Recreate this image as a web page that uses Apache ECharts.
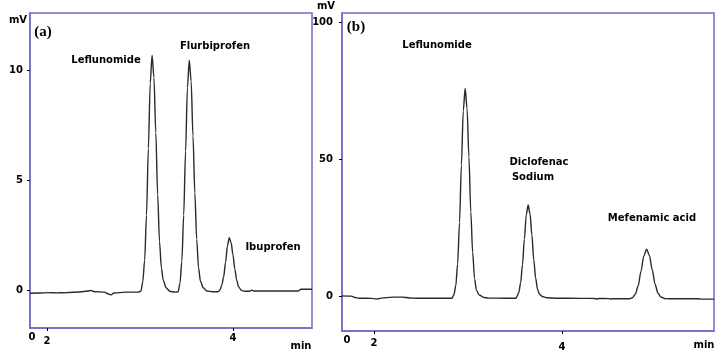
<!DOCTYPE html>
<html>
<head>
<meta charset="utf-8">
<script src="https://cdn.jsdelivr.net/npm/echarts@6/dist/echarts.min.js"></script>
<style>
  html, body { margin: 0; padding: 0; background: #fff; }
  #main { width: 722px; height: 354px; }
</style>
</head>
<body>
<div id="main"></div>
<script>
// panel (a) chromatogram, time in min / signal in mV
var timeA = [1.817, 1.90, 2.03, 2.10, 2.21, 2.35, 2.44, 2.47, 2.50, 2.62, 2.66, 2.69, 2.72, 2.85, 2.98,
  3.01, 3.03, 3.05, 3.07, 3.09, 3.11, 3.13, 3.15, 3.17, 3.19, 3.21, 3.23, 3.25, 3.28, 3.32, 3.38,
  3.41, 3.43, 3.45, 3.47, 3.49, 3.51, 3.53, 3.55, 3.57, 3.59, 3.61, 3.63, 3.65, 3.68, 3.72, 3.78,
  3.84, 3.86, 3.88, 3.90, 3.92, 3.94, 3.96, 3.98, 4.00, 4.02, 4.04, 4.06, 4.09, 4.13,
  4.18, 4.20, 4.23, 4.45, 4.70, 4.73, 4.85];
var mvA = [-0.15, -0.14, -0.12, -0.13, -0.12, -0.09, -0.05, -0.02, -0.07, -0.10, -0.18, -0.22, -0.14, -0.10, -0.10,
  -0.05, 0.37, 1.36, 3.4, 6.44, 9.4, 10.68, 9.67, 7.16, 4.33, 2.2, 1.0, 0.45, 0.1, -0.06, -0.10,
  -0.08, 0.3, 1.3, 3.4, 6.3, 9.2, 10.45, 9.5, 7.0, 4.4, 2.3, 1.0, 0.4, 0.1, -0.05, -0.08,
  -0.08, 0.0, 0.22, 0.6, 1.25, 2.0, 2.38, 2.15, 1.6, 0.95, 0.45, 0.15, -0.02, -0.06,
  -0.06, -0.01, -0.05, -0.05, -0.05, 0.03, 0.03];

// panel (b) chromatogram
var timeB = [1.66, 1.76, 1.80, 1.84, 1.98, 2.02, 2.05, 2.08, 2.20, 2.30, 2.38, 2.45, 2.65, 2.83,
  2.85, 2.87, 2.89, 2.91, 2.93, 2.95, 2.97, 2.99, 3.01, 3.03, 3.05, 3.07, 3.09, 3.12, 3.17, 3.22,
  3.40, 3.51, 3.52, 3.54, 3.56, 3.58, 3.60, 3.62, 3.64, 3.66, 3.68, 3.70, 3.72, 3.74, 3.76, 3.79, 3.84,
  3.95, 4.20, 4.35, 4.37, 4.39, 4.50, 4.52, 4.54, 4.72,
  4.75, 4.78, 4.81, 4.84, 4.87, 4.90, 4.93, 4.96, 4.99, 5.02, 5.05, 5.10,
  5.20, 5.45, 5.48, 5.617];
var mvB = [0.2, 0.1, -0.4, -0.65, -0.7, -0.9, -0.85, -0.6, -0.25, -0.25, -0.55, -0.65, -0.65, -0.66,
  0.6, 3.8, 11.8, 26.9, 47.9, 67.7, 75.8, 68.6, 50.9, 30.8, 16.0, 6.5, 2.2, 0.5, -0.4, -0.6,
  -0.65, -0.65, -0.07, 1.35, 4.9, 11.6, 20.9, 29.7, 33.3, 30.2, 22.3, 13.3, 6.6, 2.6, 0.8, 0.0, -0.5,
  -0.65, -0.7, -0.75, -0.95, -0.75, -0.8, -0.95, -0.8, -0.85,
  -0.46, 0.8, 3.8, 9.1, 14.7, 17.2, 14.9, 9.7, 4.5, 1.3, -0.2, -0.8,
  -0.85, -0.85, -1.0, -1.0];

// axis ranges and ticks
var xRangeA = [1.817, 4.85], yRangeA = [-1.73, 12.6];
var xRangeB = [1.66, 5.617], yRangeB = [-12.6, 103.3];
var xTicks = [2, 4];
var yTicksA = [0, 5, 10];
var yTicksB = [0, 50, 100];

function pairs(t, v) {
  var out = [];
  for (var i = 0; i < t.length; i++) out.push([t[i], v[i]]);
  return out;
}

var boxColor = '#6c6cc4';
var lblFont = 'DejaVu Sans';

function xAxisFor(grid, range, shiftO) {
  return {
    type: 'value', gridIndex: grid, min: range[0], max: range[1],
    axisLine: { show: true, onZero: false, lineStyle: { color: boxColor, width: 1.5 } },
    splitLine: { show: false },
    axisTick: { show: true, length: 3, customValues: xTicks, lineStyle: { color: '#000' } },
    axisLabel: {
      customValues: [range[0]].concat(xTicks),
      margin: 4,
      formatter: function (v) {
        if (v === 2) return '{t2|2}';
        if (v === 4) return '{t4|4}';
        return '{o|0}';
      },
      rich: {
        o: { fontFamily: lblFont, fontWeight: 'bold', fontSize: 10, color: '#000', padding: [shiftO[0], 0, 0, shiftO[1]] },
        t2: { fontFamily: lblFont, fontWeight: 'bold', fontSize: 10, color: '#000', padding: [shiftO[2], 0, 0, 0] },
        t4: { fontFamily: lblFont, fontWeight: 'bold', fontSize: 10, color: '#000', padding: [shiftO[3], 0, 0, 0] }
      }
    }
  };
}

function yAxisFor(grid, range, ticks, margin) {
  return {
    type: 'value', gridIndex: grid, min: range[0], max: range[1],
    axisLine: { show: true, onZero: false, lineStyle: { color: boxColor, width: 1.5 } },
    splitLine: { show: false },
    axisTick: { show: true, length: 3, customValues: ticks, lineStyle: { color: '#000' } },
    axisLabel: {
      customValues: ticks, margin: margin,
      fontFamily: lblFont, fontWeight: 'bold', fontSize: 10, color: '#000'
    }
  };
}

function txt(x, y, s, font) {
  return {
    type: 'text', x: x, y: y,
    style: { text: s, font: font || 'bold 10px "DejaVu Sans"', fill: '#000', align: 'center', verticalAlign: 'middle' }
  };
}

var myChart = echarts.init(document.getElementById('main'));
var option = {
  backgroundColor: '#fff',
  animation: false,
  grid: [
    { left: 30, top: 13, width: 282, height: 315, show: true, borderColor: boxColor, borderWidth: 1.5 },
    { left: 342, top: 13, width: 372, height: 318, show: true, borderColor: boxColor, borderWidth: 1.5 }
  ],
  xAxis: [
    xAxisFor(0, xRangeA, [0, 4, 4, 1]),
    xAxisFor(1, xRangeB, [0, 10, 3, 7])
  ],
  yAxis: [
    yAxisFor(0, yRangeA, yTicksA, 7),
    yAxisFor(1, yRangeB, yTicksB, 9)
  ],
  series: [
    {
      type: 'line', xAxisIndex: 0, yAxisIndex: 0, data: pairs(timeA, mvA),
      showSymbol: false, smooth: 0.3, smoothMonotone: 'x',
      lineStyle: { color: '#2a2a2a', width: 1.4 }
    },
    {
      type: 'line', xAxisIndex: 1, yAxisIndex: 1, data: pairs(timeB, mvB),
      showSymbol: false, smooth: 0.3, smoothMonotone: 'x',
      lineStyle: { color: '#2a2a2a', width: 1.4 }
    }
  ],
  graphic: [
    txt(43, 32, '(a)', 'bold 15px "Liberation Serif"'),
    txt(356, 27, '(b)', 'bold 15px "Liberation Serif"'),
    txt(18, 20, 'mV'),
    txt(326, 6, 'mV'),
    txt(301, 346, 'min'),
    txt(704, 345, 'min'),
    txt(106, 60, 'Leflunomide'),
    txt(215, 46, 'Flurbiprofen'),
    txt(273, 247, 'Ibuprofen'),
    txt(437, 45, 'Leflunomide'),
    txt(539, 162, 'Diclofenac'),
    txt(533, 177, 'Sodium'),
    txt(652, 218, 'Mefenamic acid')
  ]
};
myChart.setOption(option);
</script>
</body>
</html>
